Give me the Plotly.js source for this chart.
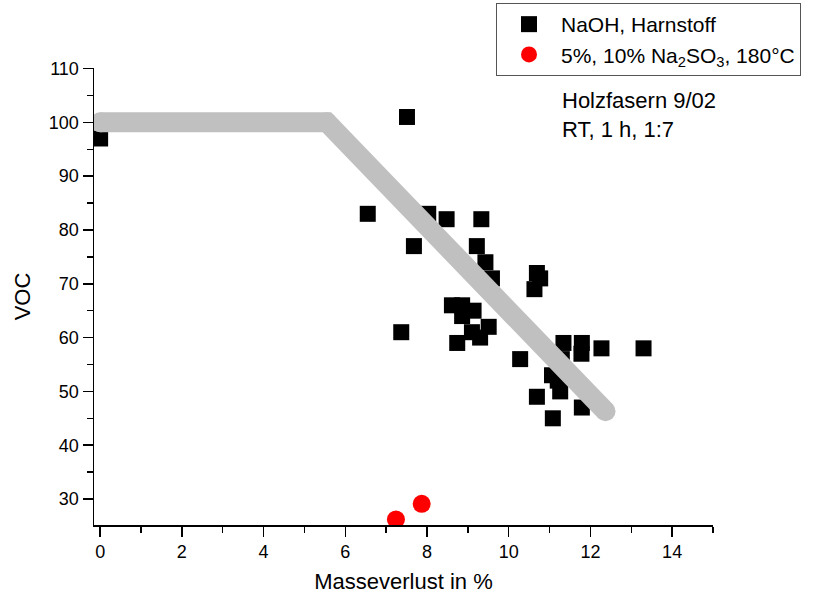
<!DOCTYPE html>
<html><head><meta charset="utf-8">
<script src="https://cdn.plot.ly/plotly-3.0.1.min.js"></script>
<style>body{margin:0;background:#fff}#chart{width:818px;height:594px}</style>
</head><body><div id="chart"></div>
<script>
// NaOH, Harnstoff series
const naohX = [0, 7.51, 6.55, 8.03, 8.48, 9.33, 7.68, 9.22, 9.43, 9.59, 10.69, 10.77, 10.63,
  8.61, 8.86, 8.86, 9.14, 9.1, 9.51, 9.3, 8.74, 7.37, 11.34, 11.79, 11.78, 12.27, 13.3,
  10.28, 11.06, 11.26, 10.69, 11.79, 11.08, 11.3, 11.2];
const naohY = [97, 101, 83, 83, 82, 82, 77, 77, 74, 71, 72, 71, 69,
  66, 66, 64, 65, 61, 62, 60, 59, 61, 59, 59, 57, 58, 58,
  56, 53, 50, 49, 47, 45, 56, 52];
// Na2SO3 series
const sulfX = [7.24, 7.87];
const sulfY = [26.2, 29.1];
// Trend line (guide)
const trendX = [0, 5.55, 12.37];
const trendY = [100, 100, 46.3];

const font = 'Liberation Sans, Arial, sans-serif';
const traces = [
  {x: naohX, y: naohY, type: 'scatter', mode: 'markers', name: 'NaOH, Harnstoff',
   marker: {symbol: 'square', size: 16, color: '#000'}},
  {x: trendX, y: trendY, type: 'scatter', mode: 'lines+markers', showlegend: false,
   line: {color: '#c0c0c0', width: 20}, marker: {color: '#c0c0c0', size: 20}, hoverinfo: 'skip'},
  {x: sulfX, y: sulfY, type: 'scatter', mode: 'markers', name: '5%, 10% Na<sub>2</sub>SO<sub>3</sub>, 180°C',
   marker: {symbol: 'circle', size: 18, color: '#ff0000'}}
];
const layout = {
  width: 818, height: 594,
  margin: {l: 94, r: 105, t: 68, b: 69, autoexpand: false},
  paper_bgcolor: '#fff', plot_bgcolor: '#fff',
  font: {family: font, size: 18, color: '#000'},
  showlegend: true,
  legend: {x: (496 - 94) / 619, y: 1 + (68 - 3) / 457, xanchor: 'left', yanchor: 'top', bordercolor: '#555', borderwidth: 1,
    font: {family: font, size: 21, color: '#000'}, itemwidth: 54, tracegroupgap: 0, bgcolor: '#fff'},
  xaxis: {range: [-0.15, 15], showgrid: false, zeroline: false, showline: true, linecolor: '#000', linewidth: 1.5,
    ticks: 'outside', ticklen: 10, tickwidth: 1.5, tickcolor: '#000', dtick: 2, tick0: 0,
    minor: {ticks: 'outside', dtick: 1, tick0: 0, ticklen: 6, tickwidth: 1.5, tickcolor: '#000'},
    tickfont: {family: font, size: 18},
    title: {text: 'Masseverlust in %', font: {family: font, size: 22}, standoff: 14}},
  yaxis: {range: [25.17, 110.1], showgrid: false, zeroline: false, showline: true, linecolor: '#000', linewidth: 1.5,
    ticks: 'outside', ticklen: 10, tickwidth: 1.5, tickcolor: '#000', dtick: 10, tick0: 0,
    minor: {ticks: 'outside', dtick: 5, tick0: 0, ticklen: 6, tickwidth: 1.5, tickcolor: '#000'},
    tickfont: {family: font, size: 18},
    title: {text: 'VOC', font: {family: font, size: 22}, standoff: 12}},
  annotations: [
    {xref: 'paper', yref: 'paper', x: (560 - 94) / 619, y: 1 - (86 - 68) / 457, xanchor: 'left', yanchor: 'top',
     align: 'left', showarrow: false, text: 'Holzfasern 9/02<br>RT, 1 h, 1:7',
     font: {family: font, size: 22, color: '#000'}}
  ]
};
Plotly.newPlot('chart', traces, layout, {displayModeBar: false, staticPlot: true});
</script></body></html>
